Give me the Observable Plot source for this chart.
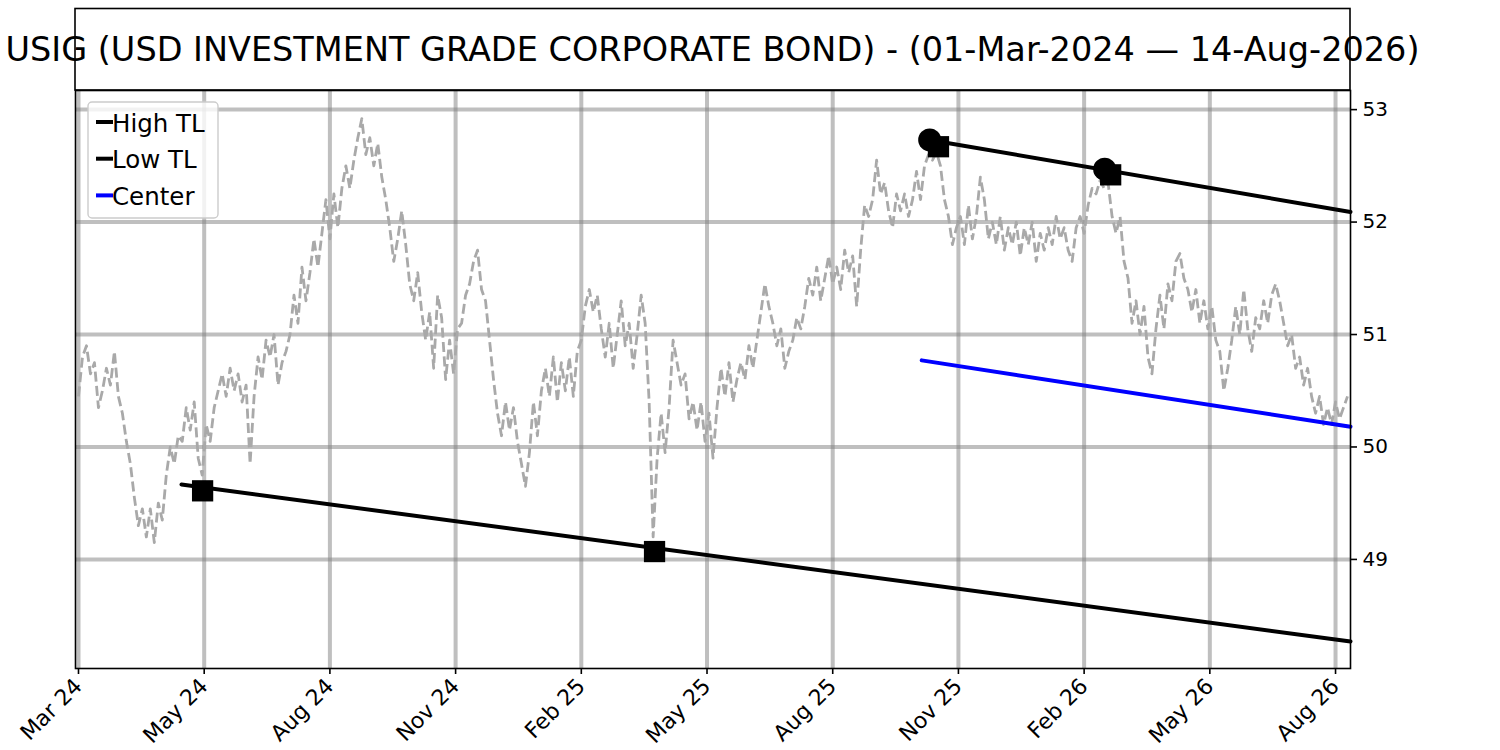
<!DOCTYPE html>
<html>
<head>
<meta charset="utf-8">
<script src="https://cdn.jsdelivr.net/npm/d3@7"></script>
<script src="https://cdn.jsdelivr.net/npm/@observablehq/plot@0.6"></script>
<style>
  html, body { margin: 0; padding: 0; background: #fff; }
  #chart { width: 1500px; height: 750px; }
</style>
</head>
<body>
<div id="chart"></div>
<script>
const title = "USIG (USD INVESTMENT GRADE CORPORATE BOND) - (01-Mar-2024 \u2014 14-Aug-2026)";

// closes sampled every 2 trading bars, starting at bar 0
const barStep = 2;
const closes = [
  50.45, 50.80, 50.90, 50.65, 50.75, 50.35, 50.50, 50.70, 50.55, 50.85,
  50.45, 50.30, 50.05, 49.85, 49.55, 49.30, 49.45, 49.20, 49.45, 49.15,
  49.50, 49.35, 49.75, 50.00, 49.85, 50.10, 50.05, 50.35, 50.15, 50.40,
  49.90, 49.75, 50.20, 50.05, 50.35, 50.50, 50.65, 50.45, 50.70, 50.50,
  50.65, 50.40, 50.55, 49.85, 50.45, 50.80, 50.60, 50.95, 50.80, 51.00,
  50.55, 50.75, 50.85, 51.00, 51.35, 51.10, 51.60, 51.30, 51.55, 51.85,
  51.60, 51.90, 52.20, 51.85, 52.25, 51.95, 52.30, 52.50, 52.30, 52.55,
  52.75, 52.92, 52.60, 52.75, 52.50, 52.70, 52.40, 52.20, 51.95, 51.65,
  51.85, 52.10, 51.80, 51.45, 51.30, 51.55, 51.20, 50.95, 51.20, 50.70,
  51.35, 51.15, 50.60, 50.95, 50.65, 51.05, 51.10, 51.35, 51.45, 51.65,
  51.75, 51.40, 51.30, 50.95, 50.60, 50.30, 50.10, 50.40, 50.15, 50.35,
  50.05, 49.85, 49.65, 49.95, 50.40, 50.10, 50.50, 50.70, 50.45, 50.80,
  50.40, 50.75, 50.50, 50.80, 50.45, 50.85, 50.95, 51.25, 51.40, 51.20,
  51.35, 51.05, 50.80, 51.10, 50.70, 51.00, 51.30, 50.90, 51.10, 50.70,
  51.00, 51.35, 51.10, 50.40, 49.20, 49.90, 50.30, 49.95, 50.35, 50.95,
  50.75, 50.55, 50.65, 50.25, 50.40, 50.15, 50.40, 50.05, 50.30, 49.90,
  50.35, 50.70, 50.45, 50.75, 50.40, 50.60, 50.75, 50.60, 50.90, 50.70,
  50.95, 51.20, 51.45, 51.25, 51.10, 50.90, 51.05, 50.70, 50.85, 50.95,
  51.15, 51.05, 51.25, 51.50, 51.35, 51.60, 51.30, 51.50, 51.70, 51.45,
  51.60, 51.40, 51.75, 51.55, 51.70, 51.25, 51.75, 52.15, 52.05, 52.20,
  52.55, 52.25, 52.35, 52.10, 51.95, 52.25, 52.10, 52.25, 52.05, 52.20,
  52.45, 52.20, 52.50, 52.60, 52.55, 52.62, 52.50, 52.20, 52.05, 51.80,
  51.95, 52.05, 51.80, 52.15, 51.85, 52.05, 52.40, 52.20, 51.85, 52.00,
  51.80, 52.05, 51.75, 51.95, 51.80, 52.00, 51.70, 51.95, 51.80, 52.00,
  51.65, 51.90, 51.75, 51.95, 51.80, 52.05, 51.85, 51.95, 51.75, 51.65,
  51.95, 52.05, 51.90, 52.15, 52.30, 52.25, 52.37, 52.30, 52.35, 52.05,
  51.90, 52.05, 51.65, 51.50, 51.10, 51.30, 51.00, 51.25, 50.80, 50.65,
  51.05, 51.35, 51.05, 51.45, 51.30, 51.65, 51.72, 51.50, 51.40, 51.20,
  51.40, 51.10, 51.30, 51.05, 51.25, 50.95, 50.85, 50.50, 50.70, 50.95,
  51.25, 51.00, 51.40, 51.05, 50.85, 51.15, 51.05, 51.30, 51.10, 51.35,
  51.45, 51.30, 51.10, 50.90, 51.00, 50.70, 50.80, 50.55, 50.70, 50.45,
  50.30, 50.45, 50.20, 50.35, 50.20, 50.40, 50.25, 50.35, 50.45
];

const tickIndex = [0, 63, 126, 189, 252, 315, 378, 441, 504, 567, 630];
const tickLabels = ["Mar 24", "May 24", "Aug 24", "Nov 24", "Feb 25", "May 25", "Aug 25", "Nov 25", "Feb 26", "May 26", "Aug 26"];
const yTicks = [49, 50, 51, 52, 53];

// trend lines (bar index, price)
const highTLIdx = [426.6, 637.5];
const highTLVal = [52.73, 52.09];
const lowTLIdx = [51.6, 637.5];
const lowTLVal = [49.667, 48.27];
const centerIdx = [422.6, 637.5];
const centerVal = [50.77, 50.18];

// pivot markers
const pivotCircleIdx = [426.6, 514.3];
const pivotCircleVal = [52.73, 52.47];
const pivotSquareIdx = [431.0, 517.3, 62.2, 288.7];
const pivotSquareVal = [52.67, 52.42, 49.61, 49.07];

const legendLabels = ["High TL", "Low TL", "Center"];
const legendColors = ["black", "black", "blue"];

const W = 1500, H = 750;
const mL = 75, mR = 150, mT = 90, mB = 82;

const plot = Plot.plot({
  width: W,
  height: H,
  marginLeft: mL,
  marginRight: mR,
  marginTop: mT,
  marginBottom: mB,
  style: { fontFamily: "DejaVu Sans", fontSize: "20px", color: "black", background: "white" },
  x: { type: "linear", domain: [-1.5, 637.5] },
  y: { domain: [48.03, 53.17] },
  marks: [
    Plot.gridX(tickIndex, { stroke: "gray", strokeOpacity: 0.5, strokeWidth: 4 }),
    Plot.gridY(yTicks, { stroke: "gray", strokeOpacity: 0.5, strokeWidth: 4 }),
    Plot.line(closes, {
      x: (d, i) => i * barStep, y: d => d,
      stroke: "darkgray", strokeWidth: 2.8, strokeDasharray: "10,4.4",
      strokeLinecap: "butt", strokeLinejoin: "round"
    }),
    Plot.line(highTLIdx, { x: d => d, y: (d, k) => highTLVal[k], stroke: "black", strokeWidth: 4 }),
    Plot.line(lowTLIdx, { x: d => d, y: (d, k) => lowTLVal[k], stroke: "black", strokeWidth: 4 }),
    Plot.line(centerIdx, { x: d => d, y: (d, k) => centerVal[k], stroke: "blue", strokeWidth: 4 }),
    Plot.dot(pivotCircleIdx, { x: d => d, y: (d, k) => pivotCircleVal[k], r: 11.5, fill: "black" }),
    Plot.dot(pivotSquareIdx, { x: d => d, y: (d, k) => pivotSquareVal[k], r: 12, symbol: "square", fill: "black" }),
    Plot.frame({ stroke: "black", strokeWidth: 1.6 }),
    Plot.axisX({
      ticks: tickIndex,
      tickFormat: d => tickLabels[tickIndex.indexOf(d)],
      tickRotate: -45,
      tickSize: 6,
      tickPadding: 8,
      fontSize: 22,
      strokeWidth: 1.6,
      label: null
    }),
    Plot.axisY({
      anchor: "right",
      ticks: yTicks,
      tickFormat: d => String(d),
      tickSize: 6,
      tickPadding: 6,
      fontSize: 20,
      strokeWidth: 1.6,
      label: null
    })
  ]
});

document.getElementById("chart").appendChild(plot);

const svg = d3.select(plot);
// title box
svg.append("rect")
  .attr("x", mL).attr("y", 8.5)
  .attr("width", W - mL - mR).attr("height", mT - 8.5)
  .attr("fill", "none").attr("stroke", "black").attr("stroke-width", 1.6);
svg.append("text")
  .attr("x", mL + (W - mL - mR) / 2).attr("y", 61)
  .attr("text-anchor", "middle")
  .attr("font-family", "DejaVu Sans")
  .attr("font-size", 33.5)
  .attr("fill", "black")
  .text(title);

// legend
const lg = svg.append("g").attr("text-anchor", "start");
lg.append("rect")
  .attr("x", 88).attr("y", 102).attr("width", 130).attr("height", 116)
  .attr("rx", 4).attr("fill", "white").attr("fill-opacity", 0.8)
  .attr("stroke", "#cccccc").attr("stroke-width", 1.4);
legendLabels.forEach((lab, k) => {
  const cy = 122 + k * 36.7;
  lg.append("line")
    .attr("x1", 96).attr("x2", 113).attr("y1", cy).attr("y2", cy)
    .attr("stroke", legendColors[k]).attr("stroke-width", 4);
  lg.append("text")
    .attr("x", 112).attr("y", cy + 9.5)
    .attr("text-anchor", "start")
    .attr("font-family", "DejaVu Sans").attr("font-size", 24.5)
    .attr("fill", "black")
    .text(lab);
});
</script>
</body>
</html>
